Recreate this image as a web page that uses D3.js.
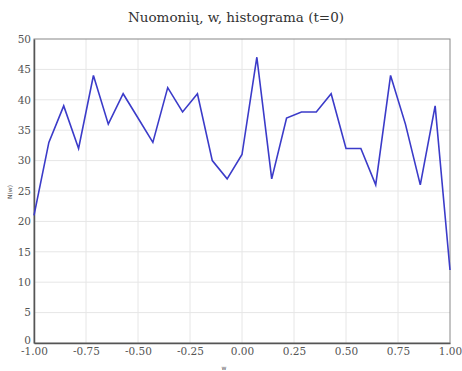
<!DOCTYPE html>
<html lang="en">
<head>
<meta charset="UTF-8">
<title>Nuomonių histograma</title>
<script src="https://d3js.org/d3.v7.min.js"></script>
<style>
    body { margin: 0; background: #fff; }
    svg { display: block; }
    .serif { font-family: "DejaVu Serif", serif !important; }
    .tick text { font-family: "DejaVu Serif", serif !important; font-size: 10.5px; fill: #555; }
</style>
</head>
<body>
<svg id="chart" width="462" height="371"></svg>
<script>
// histogram counts for w in [-1, 1], 29 bins
const counts = [21, 33, 39, 32, 44, 36, 41, 37, 33, 42, 38, 41, 30, 27, 31, 47, 27, 37, 38, 38, 41, 32, 32, 26, 44, 36, 26, 39, 12];
const xTicks = [-1, -0.75, -0.5, -0.25, 0, 0.25, 0.5, 0.75, 1];
const yTicks = [0, 5, 10, 15, 20, 25, 30, 35, 40, 45, 50];

const svg = d3.select('#chart'),
    margin = { top: 39, right: 12, bottom: 28, left: 34 },
    width = 462 - margin.left - margin.right,
    height = 371 - margin.top - margin.bottom;

const wValues = counts.map((c, i) => -1 + i * 2 / (counts.length - 1));

const x = d3.scaleLinear().domain([-1, 1]).range([0, width]);
const y = d3.scaleLinear().domain([0, 50]).range([height, 0]);

const g = svg.append('g').attr('transform', `translate(${margin.left},${margin.top})`);

// grid
g.append('g').selectAll('line').data(xTicks.slice(1, -1)).join('line')
    .attr('x1', d => x(d)).attr('x2', d => x(d))
    .attr('y1', 0).attr('y2', height)
    .attr('stroke', '#e6e6e6');
g.append('g').selectAll('line').data(yTicks.slice(1, -1)).join('line')
    .attr('y1', d => y(d)).attr('y2', d => y(d))
    .attr('x1', 0).attr('x2', width)
    .attr('stroke', '#e6e6e6');

// frame
g.append('rect').attr('width', width).attr('height', height)
    .attr('fill', 'none').attr('stroke', '#888');

// axes
const xAxis = g.append('g').attr('transform', `translate(0,${height})`)
    .call(d3.axisBottom(x).tickValues(xTicks).tickFormat(d => d.toFixed(2)).tickSize(0).tickPadding(5));
const yAxis = g.append('g')
    .call(d3.axisLeft(y).tickValues(yTicks).tickSize(0).tickPadding(3));
[xAxis, yAxis].forEach(a => a.select('.domain').attr('stroke', '#555').attr('stroke-width', 1.5));
yAxis.selectAll('.tick text').filter(d => d === 0).attr('dy', '0.05em');

// line
const line = d3.line().x((d, i) => x(wValues[i])).y(d => y(d));
g.append('path').datum(counts)
    .attr('d', line)
    .attr('fill', 'none')
    .attr('stroke', '#3b3bc9')
    .attr('stroke-width', 1.6);

// title
svg.append('text')
    .attr('class', 'serif')
    .attr('x', 236).attr('y', 22)
    .attr('text-anchor', 'middle')
    .attr('font-size', 13.5)
    .attr('fill', '#333')
    .text('Nuomonių, w, histograma (t=0)');

// axis labels
svg.append('text')
    .attr('transform', 'translate(12,192) rotate(-90)')
    .attr('text-anchor', 'middle')
    .attr('font-family', 'DejaVu Sans, sans-serif')
    .attr('font-size', 6)
    .attr('fill', '#555')
    .text('N(w)');
svg.append('text')
    .attr('x', 224).attr('y', 370)
    .attr('text-anchor', 'middle')
    .attr('font-family', 'DejaVu Sans, sans-serif')
    .attr('font-size', 6)
    .attr('fill', '#555')
    .text('w');
</script>
</body>
</html>
